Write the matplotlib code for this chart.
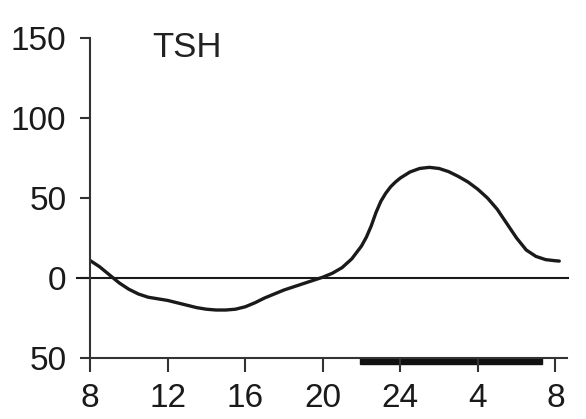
import matplotlib.pyplot as plt
from matplotlib.patches import Rectangle

# clock time (h, continuous past midnight) and TSH deviation from mean (%)
hours = [8.0, 8.5, 9.0, 9.5, 10.0, 10.5, 11.0, 11.5, 12.0, 12.5, 13.0, 13.5,
         14.0, 14.5, 15.0, 15.5, 16.0, 16.5, 17.0, 17.5, 18.0, 18.5, 19.0, 19.5,
         20.0, 20.5, 21.0, 21.5, 22.0, 22.25, 22.5, 22.75, 23.0, 23.25, 23.5,
         23.75, 24.0, 24.5, 25.0, 25.5, 26.0, 26.5, 27.0, 27.5, 28.0, 28.5,
         29.0, 29.5, 30.0, 30.5, 31.0, 31.5, 32.0, 32.2]
tsh = [11, 7, 2, -3, -7, -10, -12, -13, -14, -15.5, -17, -18.5,
       -19.5, -20, -20, -19.5, -18, -15.5, -12.5, -10, -7.5, -5.5, -3.5, -1.5,
       0.5, 3, 6.5, 12, 20, 25.5, 32.5, 41, 48, 53, 57,
       60, 62.5, 66.3, 68.5, 69.2, 68.5, 66.5, 63.5, 60, 55.5, 50,
       43, 34, 25, 17.5, 13.5, 11.5, 10.8, 10.6]

tick_pos = [8, 12, 16, 20, 24, 28, 32]
tick_labels = ["8", "12", "16", "20", "24", "4", "8"]
ytick_pos = [-50, 0, 50, 100, 150]
ytick_labels = ["50", "0", "50", "100", "150"]

sleep_start, sleep_end = 21.9, 31.3

plt.rcParams["font.family"] = ["Liberation Sans", "DejaVu Sans"]

fig = plt.figure(figsize=(5.86, 4.19), dpi=100)
ax = fig.add_axes([0.1536, 0.1456, 0.8140, 0.7634])

ax.plot(hours, tsh, color="#1a1a1a", lw=2.4, solid_capstyle="round",
        solid_joinstyle="round")

# zero reference line, running out past the y axis like a tick
ax.plot([7.33, 32.65], [0, 0], color="#1a1a1a", lw=1.5, clip_on=False)

# sleep period bar under the time axis
ax.add_patch(Rectangle((sleep_start, -54), sleep_end - sleep_start, 4,
                       color="#111111", clip_on=False))

ax.text(11.2, 144, "TSH", fontsize=25, ha="left", va="center", color="#222222")

ax.set_xlim(8, 32.6)
ax.set_ylim(-50, 150)
ax.set_xticks(tick_pos)
ax.set_xticklabels(tick_labels)
ax.set_yticks(ytick_pos)
ax.set_yticklabels(ytick_labels)

for side in ["top", "right"]:
    ax.spines[side].set_visible(False)
for side in ["left", "bottom"]:
    ax.spines[side].set_linewidth(1.5)
    ax.spines[side].set_color("#333333")

ax.tick_params(axis="both", direction="out", width=1.5, color="#333333",
               labelsize=24, labelcolor="#1a1a1a")
ax.tick_params(axis="y", length=7, pad=10)
ax.tick_params(axis="x", length=10, pad=8)

fig.savefig("out.png", dpi=100)
